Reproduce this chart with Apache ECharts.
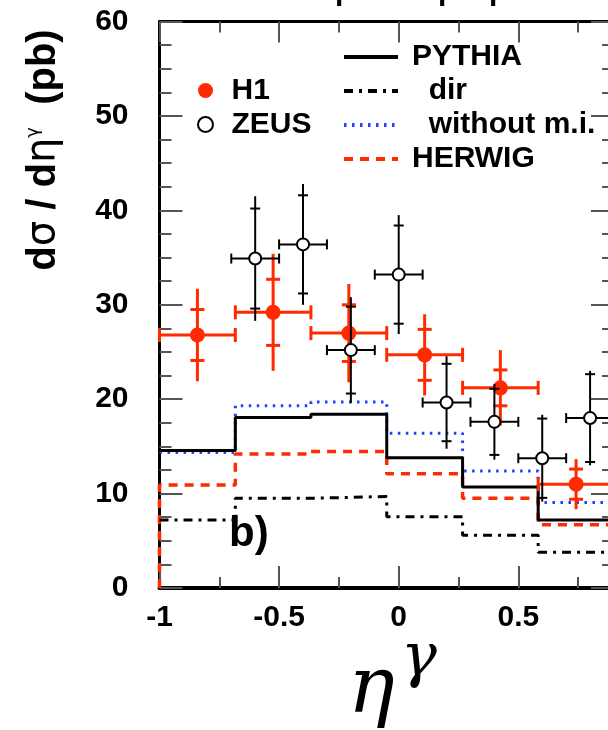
<!DOCTYPE html>
<html><head><meta charset="utf-8">
<script src="https://cdn.jsdelivr.net/npm/echarts@6/dist/echarts.min.js"></script>
<style>html,body{margin:0;padding:0;background:#fff}#c{width:608px;height:730px}</style>
</head><body><div id="c"></div>
<script>
// ---- data ----
const binEdges = [-1, -0.683, -0.367, -0.05, 0.267, 0.583, 0.9];
const xMajorTicks = [-1, -0.5, 0, 0.5];
const yTickLabels = ['0', '10', '20', '30', '40', '50', '60'];

const h1Value = [26.8, 29.2, 27.0, 24.7, 21.2, 11.0];
const h1Stat  = [2.7, 3.5, 3.0, 2.7, 1.9, 1.6];
const h1Total = [4.9, 6.2, 5.2, 4.3, 4.0, 2.65];

const zeusBinLow  = [-0.7, -0.5, -0.3, -0.1, 0.1, 0.3, 0.5, 0.7];
const zeusBinHigh = [-0.5, -0.3, -0.1, 0.1, 0.3, 0.5, 0.7, 0.9];
const zeusValue = [34.9, 36.4, 25.2, 33.2, 19.65, 17.6, 13.75, 18.0];
const zeusStat  = [5.3, 5.2, 4.6, 5.2, 4.1, 3.5, 4.2, 4.65];
const zeusTotal = [6.6, 6.4, 5.6, 6.3, 4.9, 4.0, 4.6, 5.0];

const pythia     = [14.56, 18.06, 18.4, 13.8, 10.7, 7.2];
const pythiaDir  = [7.2, 9.5, 9.7, 7.55, 5.6, 3.8];
const pythiaNoMI = [14.35, 19.3, 19.7, 16.4, 12.4, 9.05];
const herwig     = [10.9, 14.2, 14.45, 12.1, 9.5, 6.7];

// ---- build ----
const RED = '#ff2a00', BLUE = '#1f3fff', FONT = 'Liberation Sans';
function stepData(vals, fromZero) {
  const d = fromZero ? [[binEdges[0], 0]] : [];
  vals.forEach((v, i) => d.push([binEdges[i], v]));
  d.push([binEdges[binEdges.length - 1], vals[vals.length - 1]]);
  return d;
}
const h1Data = h1Value.map((v, i) => [(binEdges[i] + binEdges[i + 1]) / 2, v, binEdges[i], binEdges[i + 1], h1Stat[i], h1Total[i]]);
const zeusData = zeusValue.map((v, i) => [(zeusBinLow[i] + zeusBinHigh[i]) / 2, v, zeusBinLow[i], zeusBinHigh[i], zeusStat[i], zeusTotal[i]]);

function errorBars(data, color, width, cap, tick, z) {
  return {
    type: 'custom', z: z, silent: true, data: data, encode: { x: 0, y: 1 },
    renderItem: function (params, api) {
      const x = api.value(0), y = api.value(1), lo = api.value(2), hi = api.value(3), st = api.value(4), tot = api.value(5);
      const c = api.coord([x, y]), cl = api.coord([lo, y]), ch = api.coord([hi, y]);
      const top = api.coord([x, y + tot]), bot = api.coord([x, y - tot]);
      const s1 = api.coord([x, y + st]), s2 = api.coord([x, y - st]);
      const style = { stroke: color, lineWidth: width, fill: null };
      const L = (x1, y1, x2, y2) => ({ type: 'line', shape: { x1, y1, x2, y2 }, style: style });
      return { type: 'group', children: [
        L(cl[0], c[1], ch[0], c[1]),
        L(cl[0], c[1] - cap, cl[0], c[1] + cap),
        L(ch[0], c[1] - cap, ch[0], c[1] + cap),
        L(c[0], top[1], c[0], bot[1]),
        L(c[0] - tick, s1[1], c[0] + tick, s1[1]),
        L(c[0] - tick, s2[1], c[0] + tick, s2[1])
      ]};
    }
  };
}
function stepSeries(name, vals, color, width, type, fromZero) {
  return { name: name, type: 'line', step: 'end', symbol: 'none', showSymbol: false, z: 2,
    data: stepData(vals, fromZero), lineStyle: { color: color, width: width, type: type },
    itemStyle: { color: color }, silent: true };
}
const tickStyle = { color: '#555', width: 2 };
function xAx(pos, interval, len, labels, lineW) {
  return { type: 'value', position: pos, min: binEdges[0], max: binEdges[binEdges.length - 1], interval: interval,
    axisLine: { show: lineW > 0, onZero: false, lineStyle: { color: '#000', width: lineW } },
    axisTick: { show: true, inside: true, length: len, lineStyle: tickStyle },
    splitLine: { show: false },
    axisLabel: labels ? { show: true, margin: 15, showMaxLabel: false, color: '#000', fontSize: 30, fontWeight: 'bold', fontFamily: FONT,
      formatter: v => { const k = xMajorTicks.findIndex(t => Math.abs(t - v) < 1e-6); return k >= 0 ? String(xMajorTicks[k]) : ''; } } : { show: false }
  };
}
function yAx(pos, labels) {
  return { type: 'value', position: pos, min: 0, max: 60, interval: 10,
    axisLine: { show: true, onZero: false, lineStyle: { color: '#000', width: 3 } },
    axisTick: { show: true, inside: true, length: 23, lineStyle: tickStyle },
    minorTick: { show: true, splitNumber: 4, length: 12, lineStyle: tickStyle },
    splitLine: { show: false }, minorSplitLine: { show: false },
    axisLabel: labels ? { show: true, margin: 31, color: '#000', fontSize: 30, fontWeight: 'bold', fontFamily: FONT,
      formatter: v => yTickLabels[Math.round(v / 10)] } : { show: false }
  };
}

const chart = echarts.init(document.getElementById('c'), null, { renderer: 'canvas' });
chart.setOption({
  animation: false,
  backgroundColor: '#fff',
  grid: { left: 159.5, top: 21.6, height: 566.4, width: 454.5, containLabel: false, outerBoundsMode: 'none' },
  xAxis: [ xAx('bottom', 0.5, 22, true, 4), xAx('top', 0.5, 21, false, 3), xAx('bottom', 0.25, 11, false, 0), xAx('top', 0.25, 11, false, 0) ],
  yAxis: [ yAx('left', true), yAx('right', false) ],
  legend: [
    { data: ['PYTHIA', 'dir', 'without m.i.', 'HERWIG'], orient: 'vertical', left: 342, top: 42, padding: 0,
      itemWidth: 54, itemHeight: 14, itemGap: 4, selectedMode: false,
      itemStyle: { opacity: 0 }, lineStyle: { width: 4 },
      formatter: n => (n === 'dir' || n === 'without m.i.') ? '  ' + n : n,
      textStyle: { fontSize: 30, lineHeight: 29, fontWeight: 'bold', color: '#000', fontFamily: FONT, padding: [0, 0, 0, 9] } },
    { data: ['H1', 'ZEUS'], orient: 'vertical', left: 197, top: 75.5, padding: 0,
      itemWidth: 30, itemHeight: 15, itemGap: 4, selectedMode: false,
      textStyle: { fontSize: 30, lineHeight: 29, fontWeight: 'bold', color: '#000', fontFamily: FONT, padding: [0, 0, 0, 6] } }
  ],
  series: [
    stepSeries('HERWIG', herwig, RED, 3.5, [9, 7], true),
    stepSeries('dir', pythiaDir, '#000', 3, [9, 6, 3, 6], false),
    stepSeries('without m.i.', pythiaNoMI, BLUE, 3, [2.5, 5.5], false),
    stepSeries('PYTHIA', pythia, '#000', 3, 'solid', false),
    errorBars(h1Data, RED, 3, 7, 7, 3),
    { name: 'H1', type: 'scatter', z: 4, symbol: 'circle', symbolSize: 15, data: h1Data.map(d => [d[0], d[1]]),
      itemStyle: { color: RED, opacity: 1 }, silent: true },
    errorBars(zeusData, '#000', 2, 5, 5, 5),
    { name: 'ZEUS', type: 'scatter', z: 6, symbol: 'circle', symbolSize: 12, data: zeusData.map(d => [d[0], d[1]]),
      itemStyle: { color: '#fff', borderColor: '#000', borderWidth: 2, opacity: 1 }, silent: true }
  ],
  graphic: [
    { type: 'text', x: 44, y: 150, rotation: Math.PI / 2, silent: true,
      style: { text: '{b|d}{g|σ}{b| / d}{g|η}{s|γ}{b|  (pb)}', align: 'center', verticalAlign: 'middle',
        rich: { b: { fontSize: 40, fontWeight: 'bold', fontFamily: FONT, fill: '#000' },
                g: { fontSize: 40, fontWeight: 'normal', fontFamily: 'DejaVu Sans', fill: '#000' },
                s: { fontSize: 18, fontWeight: 'normal', fontFamily: 'DejaVu Sans', fill: '#000', verticalAlign: 'top' } } } },
    { type: 'text', x: 348, y: 692, silent: true,
      style: { text: 'η', fontSize: 78, fontStyle: 'italic', fontFamily: 'DejaVu Serif', fill: '#000', align: 'left', verticalAlign: 'middle' } },
    { type: 'text', x: 401, y: 660, silent: true,
      style: { text: 'γ', fontSize: 60, fontStyle: 'italic', fontFamily: 'DejaVu Serif', fill: '#000', align: 'left', verticalAlign: 'middle' } },
    { type: 'text', x: 229, y: 534, silent: true,
      style: { text: 'b)', fontSize: 42, fontWeight: 'bold', fontFamily: FONT, fill: '#000', verticalAlign: 'middle' } },
    { type: 'text', x: 335, y: 7, silent: true, style: { text: 'p', fontSize: 30, fontWeight: 'bold', fontFamily: FONT, fill: '#000', verticalAlign: 'bottom' } },
    { type: 'text', x: 438, y: 7, silent: true, style: { text: 'p', fontSize: 30, fontWeight: 'bold', fontFamily: FONT, fill: '#000', verticalAlign: 'bottom' } },
    { type: 'text', x: 489, y: 7, silent: true, style: { text: 'p', fontSize: 30, fontWeight: 'bold', fontFamily: FONT, fill: '#000', verticalAlign: 'bottom' } }
  ]
});
</script></body></html>
